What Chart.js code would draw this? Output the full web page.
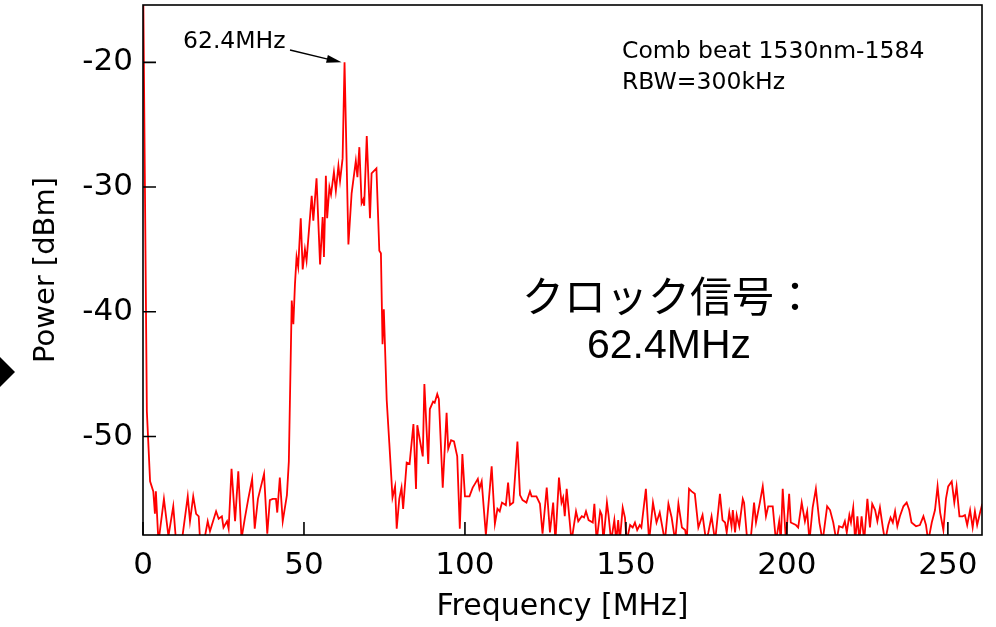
<!DOCTYPE html>
<html>
<head>
<meta charset="utf-8">
<script src="https://cdn.jsdelivr.net/npm/chart.js@4.4.0/dist/chart.umd.min.js"></script>
<style>
  html, body { margin: 0; padding: 0; background: #fff; }
  #wrap { width: 996px; height: 627px; position: relative; }
</style>
</head>
<body>
<div id="wrap"><canvas id="spectrum"></canvas></div>
<script>
// spectrum trace, [frequency MHz, power dBm]
const lowNoise = [
  [0.0, -12], [0.6, -30], [1.2, -48], [2.2, -53.6], [3.2, -54.4], [3.7, -56.2], [4.0, -54.4],
  [4.8, -58.5], [6.5, -55.0], [7.9, -58.0], [9.4, -55.6], [10.2, -58.2], [12.0, -58.5],
  [13.9, -54.8], [14.6, -56.8], [15.6, -54.8], [16.5, -56.2], [17.3, -56.4], [17.7, -58.2],
  [18.9, -58.5], [20.1, -56.8], [20.8, -57.6], [22.7, -56.0], [23.5, -56.6], [24.5, -56.4],
  [25.0, -57.3], [26.1, -56.8], [26.6, -57.4], [27.5, -52.6], [28.6, -56.8], [29.6, -52.8],
  [30.6, -58.2], [31.6, -56.6], [32.7, -55.0], [33.9, -53.4], [34.7, -57.4], [35.7, -55.0],
  [37.6, -53.0], [38.6, -57.8], [39.4, -55.1], [40.3, -55.0], [41.3, -55.0], [41.7, -56.1],
  [42.5, -53.3], [43.4, -56.8], [44.7, -54.7], [45.3, -52.0]
];
const mainPeak = [
  [46.2, -39.1], [46.7, -41.0], [47.2, -37.8], [47.7, -35.6], [48.2, -36.4], [49.0, -32.5],
  [49.6, -36.6], [50.3, -35.0], [50.8, -35.9], [52.4, -30.7], [52.9, -32.7], [53.9, -29.3],
  [55.0, -36.2], [55.8, -32.4], [56.2, -35.6], [56.8, -29.1], [57.2, -32.5], [57.9, -30.0],
  [58.4, -30.6], [59.3, -28.8], [59.9, -30.3], [60.7, -28.3], [61.2, -29.5], [62.0, -27.7],
  [62.6, -20.0], [63.8, -34.6], [64.8, -30.5], [66.1, -27.9], [66.6, -29.2], [67.2, -26.8],
  [67.9, -31.3], [68.4, -31.0], [68.7, -31.5], [69.5, -25.9], [70.5, -32.5], [71.0, -28.9],
  [72.5, -28.5], [73.4, -35.1], [73.9, -35.3], [74.4, -42.6], [74.8, -39.8], [75.7, -47.1],
  [76.5, -50.5], [77.5, -54.9]
];
const sideBump = [
  [78.3, -54.0], [78.8, -57.4], [79.6, -55.0], [80.3, -54.1], [80.8, -55.8], [81.9, -52.1],
  [82.8, -52.2], [84.0, -49.0], [84.8, -54.2], [85.2, -49.1], [85.8, -50.0], [86.9, -51.6],
  [87.4, -45.8], [88.6, -52.2], [89.1, -47.8], [90.1, -47.2], [90.6, -47.3], [91.4, -46.6],
  [91.9, -47.0], [93.1, -54.1], [94.3, -48.1], [94.8, -51.0], [95.7, -50.3], [96.6, -50.4],
  [97.6, -51.6], [98.4, -57.4], [99.2, -51.4], [100.0, -54.8], [101.4, -54.8], [102.4, -54.1],
  [103.1, -53.8], [104.0, -53.4], [104.5, -54.2], [105.2, -53.6], [106.5, -57.9], [108.3, -52.4],
  [109.3, -57.0], [110.1, -55.8], [110.8, -56.0], [111.5, -55.3], [112.7, -55.5], [113.4, -53.7],
  [114.0, -55.5], [115.0, -55.3], [116.3, -50.4], [117.1, -54.7], [117.9, -55.1], [119.1, -55.3],
  [120.2, -54.4], [120.7, -54.8], [122.2, -54.8]
];
const highNoise = [
  [123.3, -55.4], [124.1, -57.8], [125.4, -54.1], [126.4, -57.7], [127.4, -55.3], [128.1, -58.4],
  [129.2, -53.3], [130.0, -55.3], [130.5, -54.9], [131.0, -56.4], [131.6, -54.2], [133.1, -58.4],
  [134.5, -56.0], [135.2, -56.8], [136.3, -56.4], [137.0, -56.5], [137.6, -56.0], [138.4, -56.7],
  [139.7, -56.9], [140.2, -55.4], [140.9, -58.4], [142.0, -56.0], [142.5, -56.3], [143.0, -58.4],
  [144.1, -55.3], [144.6, -56.3], [145.4, -58.4], [146.4, -56.7], [147.0, -58.4], [147.6, -56.7],
  [148.1, -58.4], [149.0, -55.7], [149.7, -56.5], [150.2, -58.4], [151.3, -57.1], [152.1, -57.3],
  [152.8, -56.9], [153.5, -57.5], [154.3, -57.1], [154.8, -57.3], [156.2, -54.2], [157.2, -58.4],
  [158.4, -55.3], [159.5, -56.9], [160.5, -56.1], [162.1, -58.4], [163.2, -55.4], [164.2, -56.5],
  [165.3, -58.4], [166.3, -55.4], [167.4, -57.3], [168.4, -57.5], [168.9, -58.4], [169.6, -54.2],
  [170.4, -54.4], [171.4, -54.6], [172.5, -57.3], [173.8, -56.3], [174.9, -58.4], [175.6, -57.7],
  [176.6, -56.4], [177.7, -58.4], [179.2, -54.6], [180.0, -56.7], [180.8, -56.9], [181.3, -57.7],
  [182.1, -56.1], [182.8, -57.2], [183.2, -55.9], [183.9, -57.7], [184.4, -56.3], [185.2, -57.2],
  [186.3, -55.0], [186.7, -55.3], [187.7, -58.4], [188.7, -58.4], [189.8, -55.3], [190.4, -56.9],
  [191.6, -55.3], [192.5, -54.0], [193.5, -56.4], [194.2, -55.6], [195.6, -55.6], [196.6, -58.4],
  [197.6, -56.8], [198.1, -58.4], [198.7, -54.2], [199.7, -58.4], [200.7, -54.6], [201.2, -56.9],
  [202.8, -57.1], [203.5, -57.3], [204.6, -55.3], [205.6, -56.8], [206.3, -56.0], [207.0, -58.4],
  [208.0, -55.7], [209.0, -54.2], [210.1, -56.9], [211.1, -58.4], [212.5, -55.6], [213.4, -55.9],
  [214.4, -56.9], [215.4, -58.4], [216.2, -57.2], [217.3, -57.3], [218.0, -56.8], [218.6, -57.7],
  [219.4, -56.3], [219.9, -56.9], [220.6, -55.7], [221.2, -58.4], [221.9, -56.4], [222.5, -58.4],
  [223.2, -56.4], [224.0, -58.4], [225.0, -55.0], [225.8, -57.3], [226.5, -55.4], [227.4, -55.9],
  [228.1, -56.8], [228.9, -55.7], [229.8, -57.3], [230.5, -58.4], [231.5, -57.1], [232.2, -56.5],
  [232.9, -56.9], [233.6, -56.0], [234.3, -57.2], [235.1, -56.4], [236.2, -55.6], [237.2, -55.3],
  [238.0, -55.9], [238.7, -56.9], [240.1, -57.2], [241.3, -57.1], [242.4, -56.4], [243.2, -57.1],
  [243.9, -58.4], [245.0, -56.9], [246.0, -55.9], [246.8, -54.0], [247.6, -56.1], [248.6, -57.5],
  [249.4, -55.0], [250.1, -54.0], [251.2, -53.6], [252.0, -55.3], [252.7, -54.0], [253.6, -56.4],
  [254.6, -56.4], [255.3, -56.3], [256.0, -57.1], [256.9, -55.9], [257.7, -57.3], [258.4, -56.0],
  [259.1, -57.1], [260.0, -56.1], [260.7, -55.4]
];

const xTickValues = [0, 50, 100, 150, 200, 250];
const yTickValues = [-50, -40, -30, -20];
const xRange = [0, 260.6];
const yRange = [-57.9, -15.4];

const noteLines = ["Comb beat 1530nm-1584", "RBW=300kHz"];
const peakLabel = "62.4MHz";
const clockLines = ["クロック信号：", "62.4MHz"];

const trace = [...lowNoise, ...mainPeak, ...sideBump, ...highNoise].map(([f, p]) => ({ x: f, y: p }));
const peak = mainPeak.reduce((a, b) => (b[1] > a[1] ? b : a));

const FONT = "'DejaVu Sans', sans-serif";

// box, inward ticks and the text notes on top of the plot
const decorations = {
  id: "decorations",
  afterDraw(chart) {
    const { ctx, chartArea: a, scales: { x, y } } = chart;
    ctx.save();
    ctx.strokeStyle = "#000";
    ctx.lineWidth = 1.6;
    ctx.strokeRect(a.left, a.top, a.right - a.left, a.bottom - a.top);
    ctx.beginPath();
    xTickValues.forEach(v => {
      const px = x.getPixelForValue(v);
      ctx.moveTo(px, a.bottom);
      ctx.lineTo(px, a.bottom - 13);
    });
    yTickValues.forEach(v => {
      const py = y.getPixelForValue(v);
      ctx.moveTo(a.left, py);
      ctx.lineTo(a.left + 13, py);
    });
    ctx.stroke();

    // peak label with arrow
    ctx.fillStyle = "#000";
    ctx.font = "23.5px " + FONT;
    ctx.textBaseline = "alphabetic";
    ctx.fillText(peakLabel, 183, 48);
    const tipX = x.getPixelForValue(peak[0]) - 3;
    const tipY = y.getPixelForValue(peak[1]);
    const fromX = 290, fromY = 50;
    const ang = Math.atan2(tipY - fromY, tipX - fromX);
    ctx.lineWidth = 1.4;
    ctx.beginPath();
    ctx.moveTo(fromX, fromY);
    ctx.lineTo(tipX - 12 * Math.cos(ang), tipY - 12 * Math.sin(ang));
    ctx.stroke();
    ctx.beginPath();
    ctx.moveTo(tipX, tipY);
    ctx.lineTo(tipX - 15 * Math.cos(ang) + 4 * Math.sin(ang), tipY - 15 * Math.sin(ang) - 4 * Math.cos(ang));
    ctx.lineTo(tipX - 15 * Math.cos(ang) - 4 * Math.sin(ang), tipY - 15 * Math.sin(ang) + 4 * Math.cos(ang));
    ctx.closePath();
    ctx.fill();

    // measurement note
    ctx.font = "23.5px " + FONT;
    ctx.fillText(noteLines[0], 622, 58);
    ctx.fillText(noteLines[1], 622, 89);

    // clock signal caption
    ctx.font = "42px 'Noto Sans CJK JP', sans-serif";
    ctx.textBaseline = "middle";
    ctx.fillText(clockLines[0], 522, 296);
    ctx.font = "41px 'Liberation Sans', Arial, sans-serif";
    ctx.textBaseline = "alphabetic";
    ctx.fillText(clockLines[1], 587, 358);

    // slide marker at the left edge
    ctx.beginPath();
    ctx.moveTo(0, 357);
    ctx.lineTo(15, 372);
    ctx.lineTo(0, 387);
    ctx.closePath();
    ctx.fill();
    ctx.restore();
  }
};

new Chart(document.getElementById("spectrum"), {
  type: "line",
  data: {
    datasets: [{
      data: trace,
      borderColor: "#ff0000",
      borderWidth: 1.8,
      pointRadius: 0,
      tension: 0,
      fill: false
    }]
  },
  options: {
    responsive: true,
    maintainAspectRatio: false,
    animation: false,
    layout: { padding: { left: 0, right: 14, top: 5, bottom: 0 } },
    plugins: { legend: { display: false }, tooltip: { enabled: false } },
    scales: {
      x: {
        type: "linear",
        min: xRange[0],
        max: xRange[1],
        afterBuildTicks: s => { s.ticks = xTickValues.map(v => ({ value: v })); },
        afterFit: s => { s.height = 92; s.paddingLeft = 0; s.paddingRight = 0; },
        grid: { display: false, drawTicks: false },
        border: { display: false },
        ticks: { color: "#000", font: { family: FONT, size: 31 }, padding: 12, maxRotation: 0, autoSkip: false },
        title: { display: true, text: "Frequency [MHz]", color: "#000", font: { family: FONT, size: 30 }, padding: { top: 0, bottom: 2 } }
      },
      y: {
        type: "linear",
        min: yRange[0],
        max: yRange[1],
        afterBuildTicks: s => { s.ticks = yTickValues.map(v => ({ value: v })); },
        afterFit: s => { s.width = 143; s.paddingTop = 0; s.paddingBottom = 0; },
        grid: { display: false, drawTicks: false },
        border: { display: false },
        ticks: { color: "#000", font: { family: FONT, size: 31 }, padding: 10 },
        title: { display: true, text: "Power [dBm]", color: "#000", font: { family: FONT, size: 29 }, padding: { top: 29, bottom: 0 } }
      }
    }
  },
  plugins: [decorations]
});
</script>
</body>
</html>
